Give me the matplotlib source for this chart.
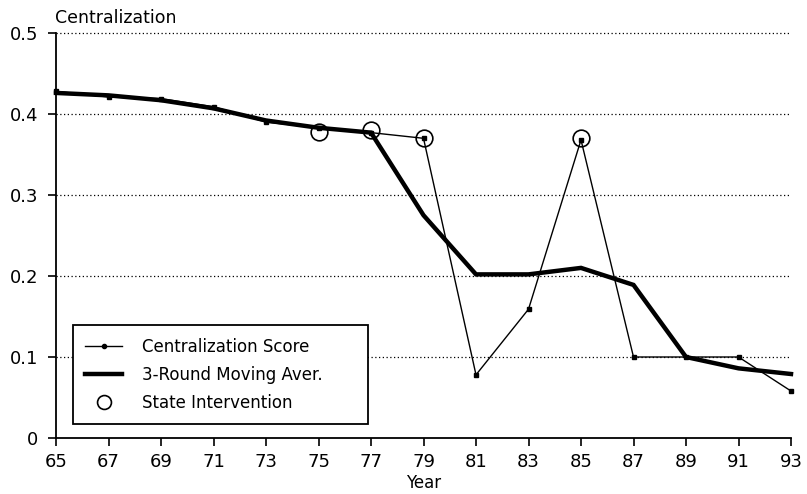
import matplotlib
matplotlib.use("Agg")
import matplotlib.pyplot as plt
from matplotlib.lines import Line2D

years = [65, 67, 69, 71, 73, 75, 77, 79, 81, 83, 85, 87, 89, 91, 93]
score = [0.428, 0.421, 0.419, 0.409, 0.390, 0.383, 0.377, 0.370, 0.078, 0.159, 0.368, 0.100, 0.100, 0.100, 0.058]
moving_avg = [0.426, 0.423, 0.417, 0.407, 0.392, 0.383, 0.377, 0.275, 0.202, 0.202, 0.210, 0.189, 0.100, 0.086, 0.079]
interv_years = [75, 77, 79, 85]
interv_vals = [0.378, 0.380, 0.370, 0.370]
yticks = [0, 0.1, 0.2, 0.3, 0.4, 0.5]
ytick_labels = ["0", "0.1", "0.2", "0.3", "0.4", "0.5"]

plt.rcParams['font.family'] = ['DejaVu Sans']

fig = plt.figure(figsize=(8.07, 4.94), dpi=100)
ax = fig.add_axes([56/807, 1-438/494, 735/807, 405/494])

for y in yticks[1:]:
    ax.axhline(y, color='black', lw=0.9, ls=(0, (1, 2)), zorder=1, clip_on=False)

ax.plot(years, moving_avg, color='black', lw=3.2, solid_joinstyle='miter', zorder=3, clip_on=False)
ax.plot(years, score, color='black', lw=1.0, marker='s', ms=3.5, zorder=4, clip_on=False)
ax.plot(interv_years, interv_vals, ls='none', marker='o', ms=12, mfc='none', mec='black', mew=1.2, zorder=5, clip_on=False)

ax.set_xlim(65, 93)
ax.set_ylim(0, 0.5)
ax.set_xticks(years)
ax.set_xticklabels([str(y) for y in years])
ax.set_yticks(yticks)
ax.set_yticklabels(ytick_labels)
ax.tick_params(axis='both', direction='out', length=6, width=1.2, labelsize=13, color='black')
ax.tick_params(axis='x', pad=5)
ax.tick_params(axis='y', pad=7)
for s in ['top', 'right']:
    ax.spines[s].set_visible(False)
for s in ['left', 'bottom']:
    ax.spines[s].set_linewidth(1.3)

ax.set_xlabel("Year", fontsize=12, labelpad=2)
fig.text(55/807, 1-18/494, "Centralization", fontsize=12.5, va='center', ha='left')

handles = [
    Line2D([], [], color='black', lw=1.0, marker='o', ms=3),
    Line2D([], [], color='black', lw=3.2),
    Line2D([], [], ls='none', marker='o', ms=10, mfc='none', mec='black', mew=1.2),
]
labels = ["Centralization Score", "3-Round Moving Aver.", "State Intervention"]
leg = ax.legend(handles, labels, loc='upper left', bbox_to_anchor=(0.0231, 0.037, 0.401, 0.242),
                mode='expand', borderaxespad=0, framealpha=1,
                fontsize=12, frameon=True, fancybox=False, edgecolor='black',
                borderpad=0.75, labelspacing=0.6, handlelength=2.2, handletextpad=1.2)
leg.get_frame().set_linewidth(1.3)
leg.set_zorder(10)

fig.savefig("out.png", dpi=100)
